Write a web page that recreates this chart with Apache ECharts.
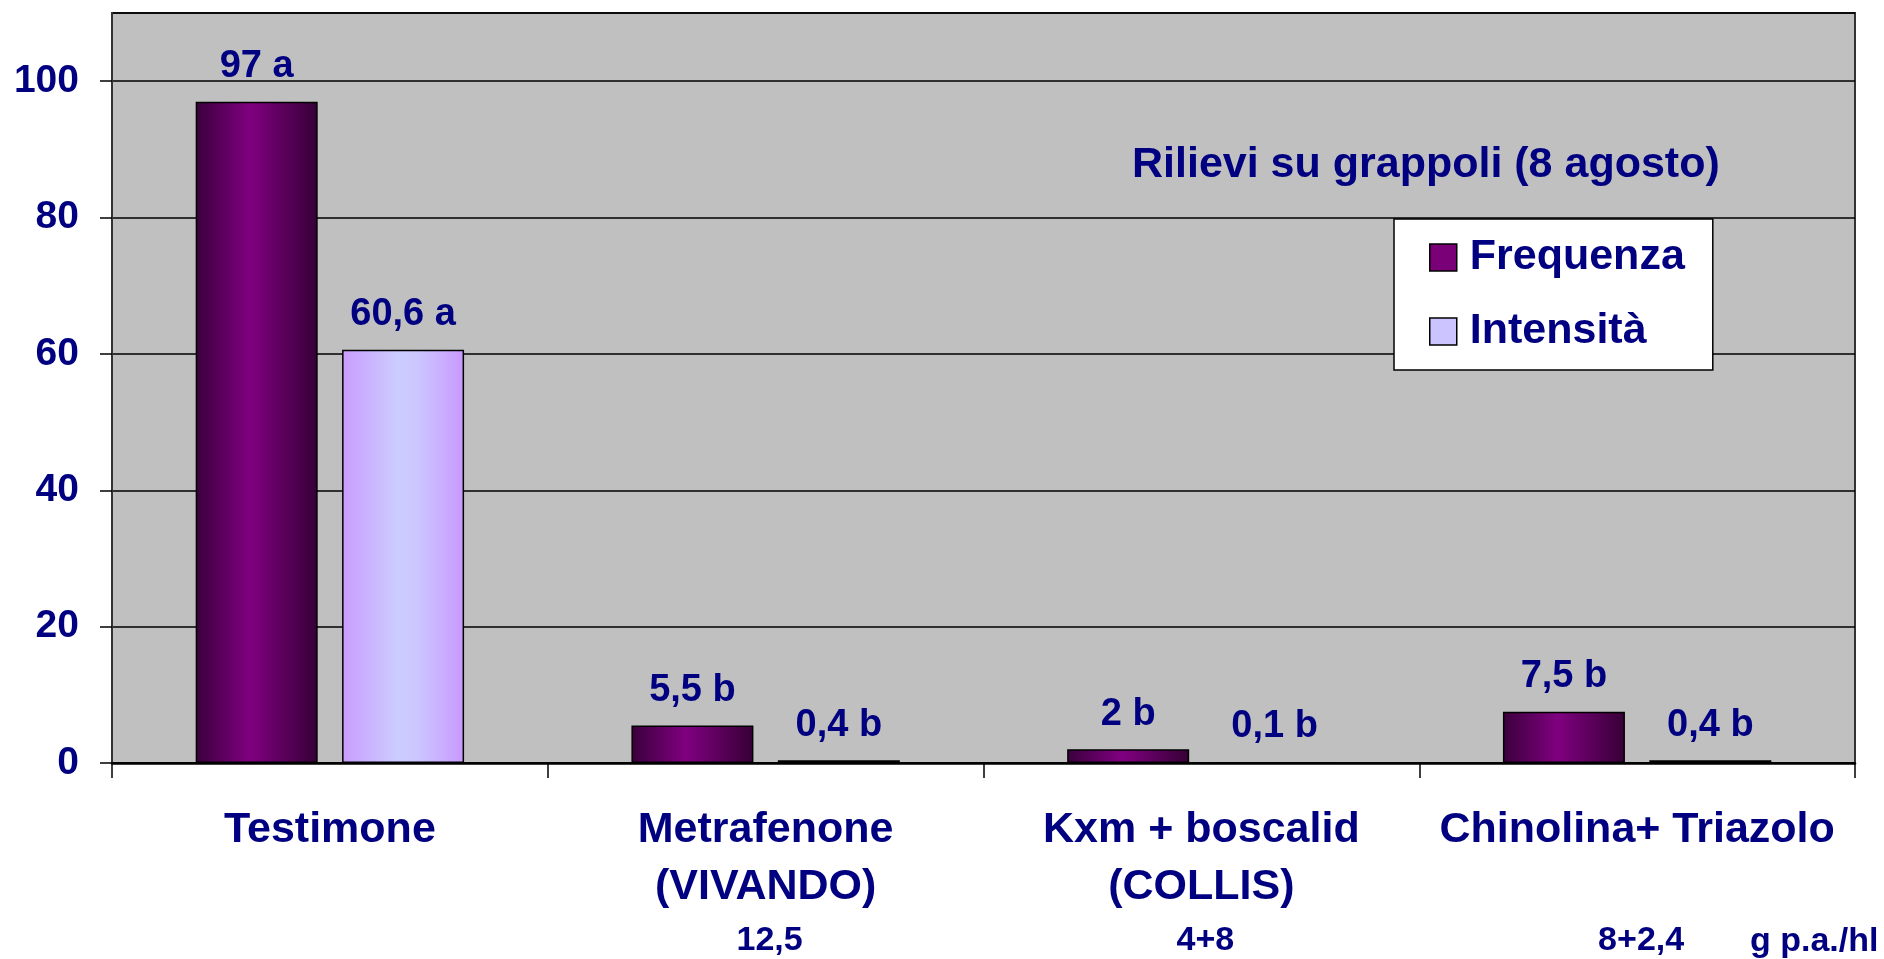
<!DOCTYPE html>
<html>
<head>
<meta charset="utf-8">
<script src="https://cdn.jsdelivr.net/npm/echarts@6/dist/echarts.min.js"></script>
<style>
    html, body { margin: 0; padding: 0; background: #fff; }
    #chart-1 { width: 1884px; height: 959px; }
</style>
</head>
<body>
<div id="chart-1"></div>
<script>
var categories = ['Testimone', 'Metrafenone', 'Kxm + boscalid', 'Chinolina+ Triazolo']
var brands = ['', '(VIVANDO)', '(COLLIS)', '']
var doses = ['', '12,5', '4+8', '8+2,4']
var frequenza = [97, 5.5, 2, 7.5]
var intensita = [60.6, 0.4, 0.1, 0.4]
var freqLetters = ['a', 'b', 'b', 'b']
var intLetters = ['a', 'b', 'b', 'b']
var yTicks = [0, 20, 40, 60, 80, 100]

var navy = '#000080'
var font = '"Liberation Sans", Arial, sans-serif'

// valore con virgola decimale + lettera di significatività
function lab(letters) {
    return function (p) {
        return String(p.value).replace('.', ',') + ' ' + letters[p.dataIndex]
    }
}

var myChart1 = echarts.init(document.getElementById('chart-1'))
var option1 = {
    animation: false,
    backgroundColor: '#fff',
    title: {
        text: 'Rilievi su grappoli (8 agosto)',
        left: 1132,
        top: 144,
        padding: 0,
        textStyle: { fontFamily: font, fontSize: 43, fontWeight: 'bold', color: navy }
    },
    legend: {
        orient: 'vertical',
        left: 1394,
        top: 219,
        padding: [17, 28, 17, 35],
        itemWidth: 27,
        itemHeight: 27,
        itemGap: 31,
        backgroundColor: '#fff',
        borderColor: '#000',
        borderWidth: 1.5,
        textStyle: { fontFamily: font, fontSize: 43, fontWeight: 'bold', color: navy, padding: [0, 0, 0, 8] },
        data: [
            { name: 'Frequenza', icon: 'rect', itemStyle: { color: '#7a0078', borderColor: '#000', borderWidth: 1.5 } },
            { name: 'Intensità', icon: 'rect', itemStyle: { color: '#ccc4ff', borderColor: '#000', borderWidth: 1.5 } }
        ]
    },
    graphic: [
        {
            type: 'text',
            left: 1750,
            top: 925,
            style: { text: 'g p.a./hl', fontFamily: font, fontSize: 34, fontWeight: 'bold', fill: navy }
        }
    ],
    grid: {
        top: 13,
        left: 112,
        right: 29,
        bottom: 196,
        outerBoundsMode: 'none',
        show: true,
        backgroundColor: '#c0c0c0',
        borderColor: '#333',
        borderWidth: 2
    },
    xAxis: [
        {
            type: 'category',
            data: categories,
            axisLine: { lineStyle: { color: '#000', width: 2.5 } },
            axisTick: { show: true, length: 15, lineStyle: { color: '#000', width: 1.5 } },
            splitLine: { show: false },
            axisLabel: {
                interval: 0,
                margin: 39,
                fontFamily: font,
                fontSize: 43,
                fontWeight: 'bold',
                color: navy,
                lineHeight: 57,
                formatter: function (v, i) {
                    var s = v
                    if (brands[i] || doses[i]) s += '\n' + (brands[i] || ' ')
                    if (doses[i]) s += '\n{s|' + doses[i] + '}'
                    return s
                },
                rich: {
                    s: { fontFamily: font, fontSize: 34, fontWeight: 'bold', color: navy, lineHeight: 49, padding: [0, 0, 0, 8] }
                }
            }
        }
    ],
    yAxis: [
        {
            type: 'value',
            min: yTicks[0],
            max: 110,
            interval: 20,
            axisLine: { show: true, lineStyle: { color: '#333', width: 2 } },
            axisTick: { show: true, length: 12, lineStyle: { color: '#000', width: 1.5 } },
            splitLine: { show: true, lineStyle: { color: '#000', width: 1.5 } },
            axisLabel: {
                margin: 33,
                showMaxLabel: false,
                fontFamily: font,
                fontSize: 39,
                fontWeight: 'bold',
                color: navy,
                formatter: function (v) {
                    return yTicks.indexOf(v) >= 0 ? String(v) : ''
                }
            }
        }
    ],
    series: [
        {
            name: 'Frequenza',
            type: 'bar',
            barWidth: 122,
            barGap: '20%',
            data: frequenza,
            itemStyle: {
                borderColor: '#000',
                borderWidth: 1.5,
                color: new echarts.graphic.LinearGradient(0, 0, 1, 0, [
                    { offset: 0, color: '#3a003c' },
                    { offset: 0.45, color: '#800080' },
                    { offset: 1, color: '#360036' }
                ])
            },
            label: {
                show: true,
                position: 'top',
                distance: 16,
                fontFamily: font,
                fontSize: 38,
                fontWeight: 'bold',
                color: navy,
                formatter: lab(freqLetters)
            }
        },
        {
            name: 'Intensità',
            type: 'bar',
            barWidth: 122,
            data: intensita,
            itemStyle: {
                borderColor: '#000',
                borderWidth: 1.5,
                color: new echarts.graphic.LinearGradient(0, 0, 1, 0, [
                    { offset: 0, color: '#c99cff' },
                    { offset: 0.45, color: '#ccccff' },
                    { offset: 0.6, color: '#ccc8ff' },
                    { offset: 1, color: '#c999ff' }
                ])
            },
            label: {
                show: true,
                position: 'top',
                distance: 16,
                fontFamily: font,
                fontSize: 38,
                fontWeight: 'bold',
                color: navy,
                formatter: lab(intLetters)
            }
        }
    ]
}
myChart1.setOption(option1)
window.addEventListener('resize', function () {
    myChart1.resize()
})
</script>
</body>
</html>
